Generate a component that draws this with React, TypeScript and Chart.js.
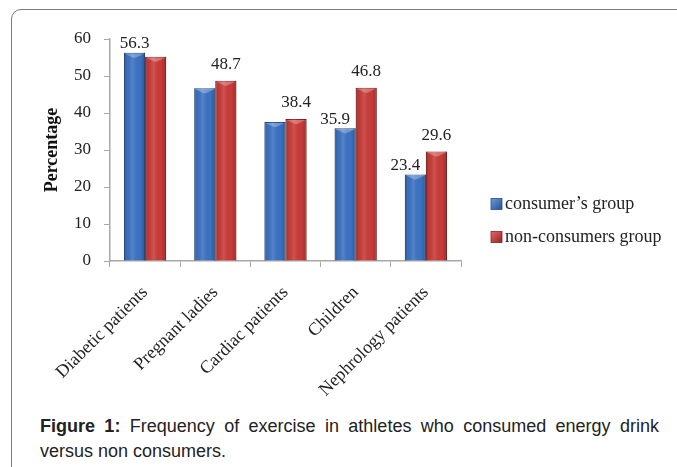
import React, { useEffect, useRef } from "react";
import { Chart, registerables } from "chart.js";

Chart.register(...registerables);

const categories = [
  "Diabetic patients",
  "Pregnant ladies",
  "Cardiac patients",
  "Children",
  "Nephrology patients",
];
const consumerValues = [56.3, 46.7, 37.6, 35.9, 23.4];
const nonConsumerValues = [55.2, 48.7, 38.4, 46.8, 29.6];
const consumerLabels: (string | null)[] = [ "56.3", null, null, "35.9", "23.4"];
const nonConsumerLabels: (string | null)[] = [null, "48.7", "38.4", "46.8", "29.6"];
const seriesNames = ["consumer\u2019s group", "non-consumers group"];
const yTicks = [0, 10, 20, 30, 40, 50, 60];

const SERIF = "'Liberation Serif', 'Times New Roman', serif";

const barStylePlugin = {
  id: "barStyle",
  afterDatasetsDraw(chart: any) {
    const ctx = chart.ctx;
    chart.data.datasets.forEach((_ds: any, di: number) => {
      const meta = chart.getDatasetMeta(di);
      meta.data.forEach((el: any) => {
        const w = el.width;
        const left = el.x - w / 2;
        const top = el.y;
        const bottom = el.base;
        const g = ctx.createLinearGradient(left, 0, left + w, 0);
        g.addColorStop(0, "rgba(0,0,0,0.28)");
        g.addColorStop(0.12, "rgba(0,0,0,0.05)");
        g.addColorStop(0.4, "rgba(255,255,255,0.12)");
        g.addColorStop(0.75, "rgba(0,0,0,0.0)");
        g.addColorStop(0.92, "rgba(0,0,0,0.15)");
        g.addColorStop(1, "rgba(0,0,0,0.35)");
        ctx.save();
        ctx.fillStyle = g;
        ctx.fillRect(left, top, w, bottom - top);
        ctx.fillStyle = "rgba(255,255,255,0.28)";
        ctx.beginPath();
        ctx.moveTo(left + 1, top + 1);
        ctx.lineTo(left + w - 1, top + 1);
        ctx.lineTo(left + w * 0.55, top + 5);
        ctx.lineTo(left + w * 0.45, top + 5);
        ctx.closePath();
        ctx.fill();
        ctx.restore();
      });
    });
  },
};

const valueLabelPlugin = {
  id: "valueLabels",
  afterDatasetsDraw(chart: any) {
    const ctx = chart.ctx;
    const allLabels = [consumerLabels, nonConsumerLabels];
    const gaps = [9, 16];
    ctx.save();
    ctx.font = `17px ${SERIF}`;
    ctx.fillStyle = "#222";
    ctx.textAlign = "center";
    ctx.textBaseline = "middle";
    chart.data.datasets.forEach((_ds: any, di: number) => {
      const meta = chart.getDatasetMeta(di);
      meta.data.forEach((el: any, i: number) => {
        const lab = allLabels[di][i];
        if (!lab) return;
        const both = consumerLabels[i] && nonConsumerLabels[i];
        const shift = di === 0 && both ? -10 : 0;
        ctx.fillText(lab, el.x + shift, el.y - gaps[di]);
      });
    });
    ctx.restore();
  },
};

const legendPlugin = {
  id: "sideLegend",
  afterDraw(chart: any) {
    const ctx = chart.ctx;
    const area = chart.chartArea;
    const x0 = area.right + 30;
    const y0 = area.top + 165;
    ctx.save();
    ctx.font = `18px ${SERIF}`;
    ctx.textBaseline = "middle";
    ctx.textAlign = "left";
    chart.data.datasets.forEach((ds: any, di: number) => {
      const y = y0 + di * 33;
      const g = ctx.createLinearGradient(x0, y - 5.5, x0 + 11, y + 5.5);
      g.addColorStop(0, ds.hoverBackgroundColor);
      g.addColorStop(1, ds.borderColor);
      ctx.fillStyle = g;
      ctx.fillRect(x0, y - 5.5, 11, 11);
      ctx.strokeStyle = ds.borderColor;
      ctx.lineWidth = 0.8;
      ctx.strokeRect(x0, y - 5.5, 11, 11);
      ctx.fillStyle = "#222";
      ctx.fillText(ds.label, x0 + 14, y);
    });
    ctx.restore();
  },
};

export default function App() {
  const canvasRef = useRef<HTMLCanvasElement | null>(null);

  useEffect(() => {
    if (!canvasRef.current) return;
    const chart = new Chart(canvasRef.current, {
      type: "bar",
      data: {
        labels: categories,
        datasets: [
          {
            label: seriesNames[0],
            data: consumerValues,
            backgroundColor: "#3c72c3",
            hoverBackgroundColor: "#6a9be0",
            borderColor: "#27508e",
            borderWidth: 1,
            categoryPercentage: 0.6,
            barPercentage: 1.0,
          },
          {
            label: seriesNames[1],
            data: nonConsumerValues,
            backgroundColor: "#c93b38",
            hoverBackgroundColor: "#e86a66",
            borderColor: "#8f2321",
            borderWidth: 1,
            categoryPercentage: 0.6,
            barPercentage: 1.0,
          },
        ],
      },
      options: {
        animation: false,
        responsive: true,
        maintainAspectRatio: false,
        events: [],
        layout: { padding: { left: 0, top: 29, right: 216, bottom: 0 } },
        plugins: {
          legend: { display: false },
          tooltip: { enabled: false },
        },
        scales: {
          x: {
            afterFit: (s: any) => {
              s.height = 149;
            },
            grid: {
              display: true,
              drawOnChartArea: false,
              color: "#a8a8a8",
              tickLength: 6,
              offset: true,
            },
            border: { display: true, color: "#a8a8a8", width: 1.5 },
            ticks: {
              font: { family: SERIF, size: 18 },
              color: "#222",
              maxRotation: 45,
              minRotation: 45,
              padding: 15,
            },
          },
          y: {
            min: 0,
            max: 60,
            afterFit: (s: any) => {
              s.width = 98;
            },
            afterBuildTicks: (s: any) => {
              s.ticks = yTicks.map((v) => ({ value: v }));
            },
            grid: {
              display: true,
              drawOnChartArea: false,
              color: "#a8a8a8",
              tickLength: 6,
            },
            border: { display: true, color: "#a8a8a8", width: 1.5 },
            ticks: {
              font: { family: SERIF, size: 17 },
              color: "#222",
              padding: 13,
            },
            title: {
              display: true,
              text: "Percentage",
              font: { family: SERIF, size: 18, weight: "bold" },
              color: "#111",
              padding: { top: 30, bottom: 0 },
            },
          },
        },
      },
      plugins: [barStylePlugin, valueLabelPlugin, legendPlugin],
    } as any);
    return () => chart.destroy();
  }, []);

  return (
    <div
      style={{
        position: "fixed",
        left: 0,
        top: 0,
        width: 677,
        height: 467,
        overflow: "hidden",
        background: "#fff",
      }}
    >
      <div
        style={{
          position: "absolute",
          left: 11,
          top: 9,
          width: 720,
          height: 520,
          border: "1.5px solid #7a7a7a",
          borderTopLeftRadius: 10,
          boxSizing: "border-box",
        }}
      />
      <div
        style={{
          position: "absolute",
          left: 12,
          top: 10,
          width: 665,
          height: 400,
        }}
      >
        <canvas ref={canvasRef} />
      </div>
      <div
        style={{
          position: "absolute",
          left: 40,
          top: 414,
          width: 619,
          fontFamily: "'Liberation Sans', Arial, sans-serif",
          fontSize: 18,
          lineHeight: "25px",
          color: "#222",
        }}
      >
        <div style={{ textAlign: "justify", textAlignLast: "justify" } as any}>
          <b>Figure 1:</b> Frequency of exercise in athletes who consumed energy drink
        </div>
        <div>versus non consumers.</div>
      </div>
    </div>
  );
}
